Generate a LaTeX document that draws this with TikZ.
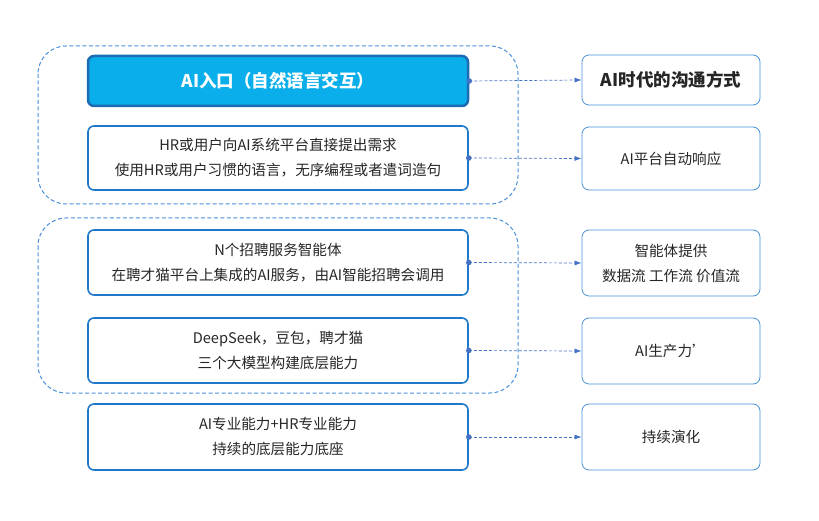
\documentclass[tikz,border=0pt]{standalone}
\usepackage{fontspec}
\setmainfont{Noto Sans CJK SC}
\usetikzlibrary{positioning,arrows.meta}
\definecolor{boxblue}{HTML}{1F78C8}
\definecolor{lightblue}{HTML}{4A90D9}
\definecolor{fillblue}{HTML}{0AAEEA}
\definecolor{linkblue}{HTML}{4472C4}
\begin{document}
\begin{tikzpicture}[x=1pt,y=-1pt,
  lbox/.style={draw=boxblue,line width=1.6pt,rounded corners=6pt,minimum width=380pt,align=center,font=\fontsize{14.6}{25}\selectfont,text=black!85},
  rbox/.style={draw=lightblue,line width=0.8pt,rounded corners=7pt,minimum width=178pt,align=center,font=\fontsize{14.6}{25}\selectfont,text=black!85},
  group/.style={draw=lightblue,dash pattern=on 4pt off 2.5pt,line width=1pt,rounded corners=28pt},
  link/.style={draw=linkblue,densely dashed,line width=0.7pt,-{Latex[length=7pt,width=5pt]}}]
\useasboundingbox (0,0) rectangle (819,521);
\draw[group] (38,46) rectangle (518,204);
\draw[group] (38,218) rectangle (518,393);
% left column
\node[lbox,minimum height=50pt,fill=fillblue,text=white,font=\fontsize{17.5}{20}\selectfont\bfseries,line width=2.5pt,draw=boxblue!90!black] (entry) at (278,81) {AI入口（自然语言交互）};
\node[lbox,minimum height=64pt] (req) at (278,158) {HR或用户向AI系统平台直接提出需求\\使用HR或用户习惯的语言，无序编程或者遣词造句};
\node[lbox,minimum height=65pt] (agent) at (278,262.5) {N个招聘服务智能体\\在聘才猫平台上集成的AI服务，由AI智能招聘会调用};
\node[lbox,minimum height=65pt] (model) at (278,350.5) {DeepSeek，豆包，聘才猫\\三个大模型构建底层能力};
\node[lbox,minimum height=66pt] (base) at (278,437) {AI专业能力+HR专业能力\\持续的底层能力底座};
% right column
\node[rbox,minimum height=50pt,font=\fontsize{17.5}{20}\selectfont\bfseries] (comm) at (671,80) {AI时代的沟通方式};
\node[rbox,minimum height=63pt] (resp) at (671,158.5) {AI平台自动响应};
\node[rbox,minimum height=66pt] (flow) at (671,263) {智能体提供\\数据流 工作流 价值流};
\node[rbox,minimum height=66pt] (prod) at (671,351) {AI生产力’};
\node[rbox,minimum height=66pt] (evol) at (671,437) {持续演化};
% links
\foreach \a/\b in {entry/comm,req/resp,agent/flow,model/prod,base/evol}{
  \fill[linkblue] (\a.east) circle (2.8pt);
  \draw[link] (\a.east) -- (\b.west);
}
\end{tikzpicture}
\end{document}
